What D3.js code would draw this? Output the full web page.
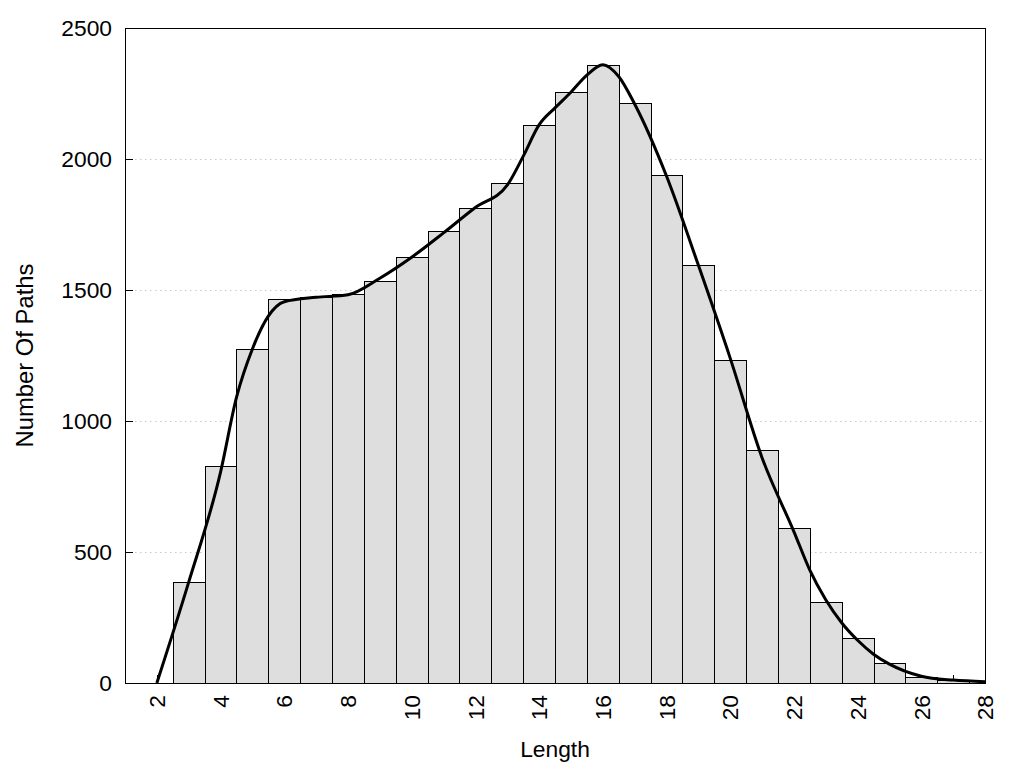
<!DOCTYPE html>
<html>
<head>
<meta charset="utf-8">
<script src="https://cdn.jsdelivr.net/npm/d3@7"></script>
<style>
  html, body { margin: 0; padding: 0; background: #fff; }
  text { font-family: "Liberation Sans", Arial, sans-serif; fill: #000; }
</style>
</head>
<body>
<svg id="chart" width="1024" height="768"></svg>
<script>
// Histogram bins (centre of bin = path length)
const lengths = [3, 4, 5, 6, 7, 8, 9, 10, 11, 12, 13, 14, 15, 16, 17, 18, 19, 20, 21, 22, 23, 24, 25, 26, 27];
const counts  = [385, 828, 1275, 1466, 1473, 1485, 1535, 1626, 1725, 1813, 1908, 2130, 2256, 2359, 2214, 1939, 1595, 1233, 889, 592, 309, 172, 76, 23, 11];

// Smoothed density curve
const curveX = [2, 3, 4, 4.5, 5, 5.5, 6, 7, 8, 9, 10, 11, 12, 13, 13.5, 14, 14.5, 15, 15.5, 16, 16.5, 17, 18, 19, 20, 21, 22, 22.5, 23, 23.5, 24, 24.5, 25, 26, 27, 28];
const curveY = [0, 385, 805, 1090, 1275, 1400, 1455, 1472, 1482, 1545, 1625, 1718, 1815, 1900, 2010, 2130, 2195, 2255, 2320, 2360, 2315, 2210, 1935, 1595, 1240, 860, 578, 431, 318, 230, 163, 110, 72, 26, 11, 5];

const xTickLabels = [2, 4, 6, 8, 10, 12, 14, 16, 18, 20, 22, 24, 26, 28];
const xMinorTicks = d3.range(2, 29);
const yTicks = [0, 500, 1000, 1500, 2000, 2500];

const svg = d3.select("#chart");
const L = 125, R = 985, T = 28, B = 683;
const x = d3.scaleLinear().domain([1, 28]).range([L, R]);
const y = d3.scaleLinear().domain([0, 2500]).range([B, T]);
const FS = "22.8px";

// grid
svg.append("g").selectAll("line").data(yTicks.filter(d => d > 0 && d < 2500)).join("line")
  .attr("x1", L).attr("x2", R)
  .attr("y1", d => Math.round(y(d)) + 0.5).attr("y2", d => Math.round(y(d)) + 0.5)
  .attr("stroke", "#c8c8c8").attr("stroke-width", 1).attr("stroke-dasharray", "1.5,3.5");

// minor x ticks (inward)
svg.append("g").selectAll("line").data(xMinorTicks).join("line")
  .attr("x1", d => Math.round(x(d)) + 0.5).attr("x2", d => Math.round(x(d)) + 0.5)
  .attr("y1", B).attr("y2", B - 8)
  .attr("stroke", "#000").attr("stroke-width", 1);

// y ticks inward
svg.append("g").selectAll("line").data(yTicks).join("line")
  .attr("x1", L).attr("x2", L + 8)
  .attr("y1", d => Math.round(y(d)) + 0.5).attr("y2", d => Math.round(y(d)) + 0.5)
  .attr("stroke", "#000").attr("stroke-width", 1);

// bars
svg.append("clipPath").attr("id", "plotclip")
  .append("rect").attr("x", L).attr("y", T).attr("width", R - L).attr("height", B - T);
svg.append("g").attr("clip-path", "url(#plotclip)")
  .selectAll("rect").data(lengths.map((l, i) => ({ l, c: counts[i] }))).join("rect")
  .attr("x", d => Math.round(x(d.l - 0.5)) + 0.5)
  .attr("width", d => Math.round(x(d.l + 0.5)) - Math.round(x(d.l - 0.5)))
  .attr("y", d => Math.round(y(d.c)) + 0.5)
  .attr("height", d => Math.max(0, B - Math.round(y(d.c))))
  .attr("fill", "#dedede").attr("stroke", "#000").attr("stroke-width", 1);

// density curve
const line = d3.line().x(d => x(d[0])).y(d => y(d[1])).curve(d3.curveMonotoneX);
svg.append("path")
  .datum(curveX.map((v, i) => [v, curveY[i]]))
  .attr("d", line)
  .attr("fill", "none").attr("stroke", "#000").attr("stroke-width", 3)
  .attr("stroke-linejoin", "round");

// frame
svg.append("rect").attr("x", L + 0.5).attr("y", T + 0.5)
  .attr("width", R - L).attr("height", B - T)
  .attr("fill", "none").attr("stroke", "#000").attr("stroke-width", 1);

// y tick labels
svg.append("g").selectAll("text").data(yTicks).join("text")
  .attr("x", L - 13).attr("y", d => y(d)).attr("dy", "0.36em")
  .attr("text-anchor", "end").style("font-size", FS)
  .text(d => d);

// x tick labels rotated
svg.append("g").selectAll("text").data(xTickLabels).join("text")
  .attr("transform", d => `translate(${x(d)},${B + 12}) rotate(-90)`)
  .attr("dy", "0.36em")
  .attr("text-anchor", "end").style("font-size", FS)
  .text(d => d);

// axis titles
svg.append("text")
  .attr("x", (L + R) / 2).attr("y", 757)
  .attr("text-anchor", "middle").style("font-size", FS)
  .text("Length");
svg.append("text")
  .attr("transform", `translate(33,${(T + B) / 2}) rotate(-90)`)
  .attr("text-anchor", "middle").style("font-size", "23.8px")
  .text("Number Of Paths");
</script>
</body>
</html>
